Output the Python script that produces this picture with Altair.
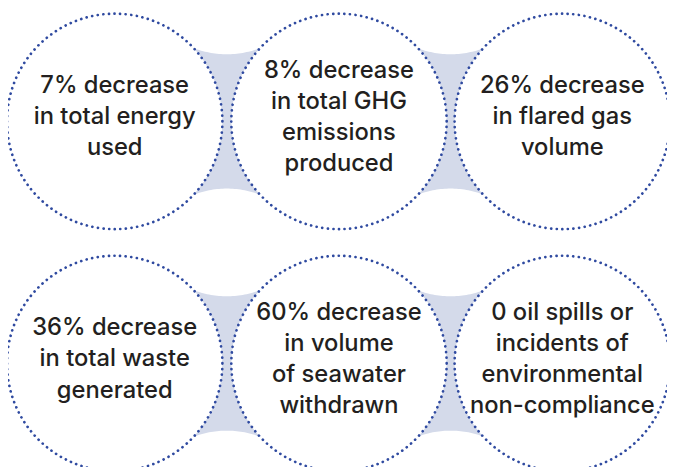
import altair as alt
import numpy as np
import pandas as pd

# ---- content ----
labels = [
    "7% decrease\nin total energy\nused",
    "8% decrease\nin total GHG\nemissions\nproduced",
    "26% decrease\nin flared gas\nvolume",
    "36% decrease\nin total waste\ngenerated",
    "60% decrease\nin volume\nof seawater\nwithdrawn",
    "0 oil spills or\nincidents of\nenvironmental\nnon-compliance",
]
rows = [0, 0, 0, 1, 1, 1]
cols = [0, 1, 2, 0, 1, 2]

# ---- layout (page pixel coordinates) ----
COL_X = [116, 343, 569]
ROW_Y = [120, 365]
R = 109          # circle radius
GAP_HALF = 68    # vertical half-extent of the connector at its centre
ARC_R = 95       # radius of the concave connector edges
LINE_H = 31.5

DOT = "#2f4aa0"
LAV = "#d4daea"
TXT = "#231f20"

W, H = 667, 459
xs = alt.Scale(domain=[8, 8 + W], nice=False, zero=False)
ys = alt.Scale(domain=[8, 8 + H], nice=False, zero=False, reverse=True)

circles = pd.DataFrame({
    "label": labels,
    "cx": [COL_X[c] for c in cols],
    "cy": [ROW_Y[r] for r in rows],
})

# connector shapes between neighbouring circles
recs = []
cid = 0
for r, cy in enumerate(ROW_Y):
    for a, b in [(0, 1), (1, 2)]:
        mid = (COL_X[a] + COL_X[b]) / 2
        for dx in np.linspace(-46, 46, 47):
            s = np.sqrt(ARC_R ** 2 - dx ** 2)
            top = cy - GAP_HALF - ARC_R + s
            bot = cy + GAP_HALF + ARC_R - s
            recs.append({"id": cid, "x": mid + dx, "top": top, "bot": bot})
        cid += 1
conn = pd.DataFrame(recs)

area = alt.Chart(conn).mark_area(color=LAV, opacity=1).encode(
    x=alt.X("x:Q", scale=xs, axis=None),
    y=alt.Y("top:Q", scale=ys, axis=None),
    y2="bot:Q",
    detail="id:N",
)

base = alt.Chart(circles).encode(
    x=alt.X("cx:Q", scale=xs, axis=None),
    y=alt.Y("cy:Q", scale=ys, axis=None),
)

fill = base.mark_point(
    shape="circle", size=(2 * R) ** 2, filled=True, color="white", opacity=1,
    strokeWidth=0,
)
ring = base.mark_point(
    shape="circle", size=(2 * R) ** 2, filled=False, color=DOT, opacity=1,
    strokeWidth=2.7, strokeDash=[0.1, 5.6], strokeCap="round",
)
text = alt.Chart(circles).transform_calculate(
    ty=f"datum.cy - 4 - (split(datum.label, '\\n').length - 1) * {LINE_H / 2}"
).mark_text(
    font="Inter", fontSize=24, fontWeight=500, lineHeight=LINE_H, lineBreak="\n",
    align="center", baseline="middle", color=TXT,
).encode(
    x=alt.X("cx:Q", scale=xs, axis=None),
    y=alt.Y("ty:Q", scale=ys, axis=None),
    text="label:N",
)

chart = alt.layer(area, fill, ring, text).properties(
    width=W, height=H, padding=0,
    autosize=alt.AutoSizeParams(type="none"),
    background="white",
).configure_view(stroke=None)

chart.save("out.html", embed_options={"renderer": "svg", "actions": False})
